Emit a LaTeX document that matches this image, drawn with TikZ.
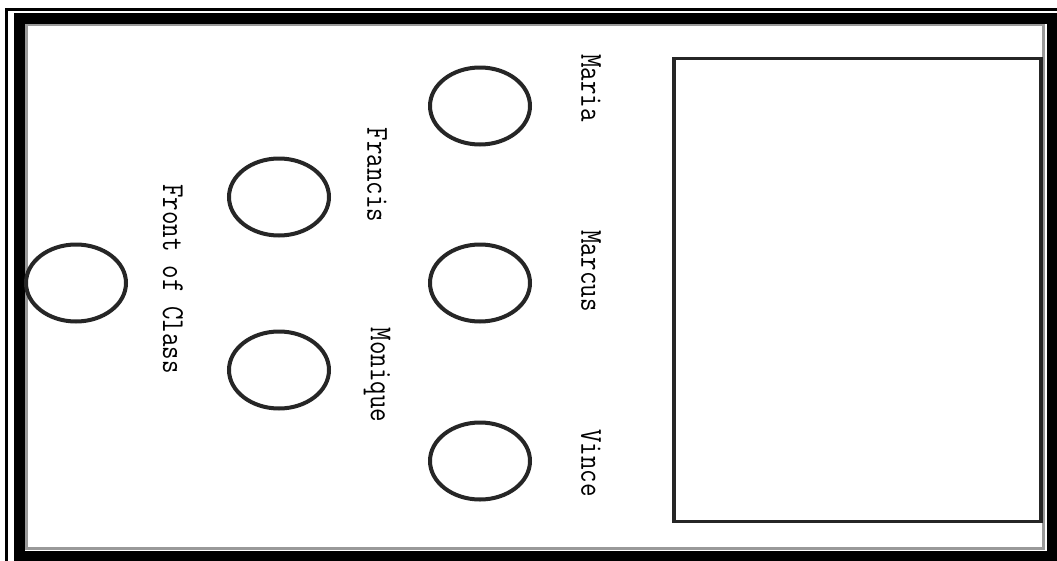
\documentclass[tikz,border=0pt]{standalone}
\usepackage{fontspec}
\usetikzlibrary{shapes.geometric}
\tikzset{
  seat/.style={ellipse, draw=black!85, line width=4pt, minimum width=100pt, minimum height=77pt, inner sep=0pt},
  namelabel/.style={rotate=-90, inner sep=0pt, font=\ttfamily\fontsize{32}{32}\selectfont},
  frame/.style={line width=11pt, black},
}
\newcommand{\nm}[1]{\scalebox{0.82}[1]{#1}}
\begin{document}
\begin{tikzpicture}[x=1pt,y=-1pt]
\useasboundingbox (0,0) rectangle (1057,560);
\fill[white] (0,0) rectangle (1057,560);
% outer frame lines
\draw[line width=3pt] (6.5,9.5) rectangle (1070,575);
\draw[frame] (19,18) rectangle (1052,556);
\draw[gray!80, line width=2.5pt] (26.5,25) rectangle (1043.5,548.5);
% inner rectangle (board)
\draw[black!85, line width=3.5pt] (674,58.5) rectangle (1041,521.5);
% seats
\node[seat] (front) at (76,283) {};
\node[seat] (francis) at (279,197) {};
\node[seat] (monique) at (279,370) {};
\node[seat] (maria) at (480,106) {};
\node[seat] (marcus) at (480,283) {};
\node[seat] (vince) at (480,461) {};
% labels
\node[namelabel] (lfront) at (173,279) {\nm{Front of Class}};
\node[namelabel] (lfrancis) at (377,175) {\nm{Francis}};
\node[namelabel] (lmonique) at (377,375) {\nm{Monique}};
\node[namelabel] (lmaria) at (591,88) {\nm{Maria}};
\node[namelabel] (lmarcus) at (591,271) {\nm{Marcus}};
\node[namelabel] (lvince) at (591,463) {\nm{Vince}};
\end{tikzpicture}
\end{document}
